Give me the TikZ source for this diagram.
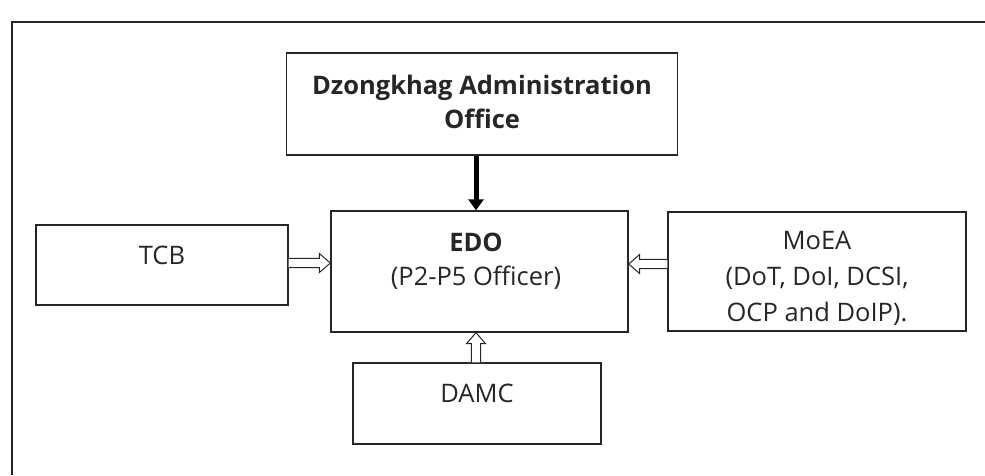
\documentclass[tikz,border=0pt]{standalone}
\usepackage{fontspec}
\setmainfont{Open Sans}
\usetikzlibrary{arrows.meta,calc}
\newcommand\hollowarr[2]{%
  \coordinate (ha) at ($(#2)!11pt!(#1)$);
  \draw[hollow] ($(#1)!4.7pt!90:(#2)$) -- ($(ha)!4.7pt!90:(#2)$) -- ($(ha)!9.5pt!90:(#2)$) -- (#2)
    -- ($(ha)!9.5pt!-90:(#2)$) -- ($(ha)!4.7pt!-90:(#2)$) -- ($(#1)!4.7pt!-90:(#2)$);}
\begin{document}
\begin{tikzpicture}[x=1pt,y=-1pt,
  lbl/.style={font=\fontsize{25.5}{32}\selectfont, text=black!85, align=center, inner sep=0pt},
  box/.style={draw=black!85, line width=1.3pt, inner sep=0pt, align=center, text=black!85},
  hollow/.style={draw=black!85, line width=1pt, fill=white, line join=miter},
  solidarrow/.style={line width=5pt, -{Triangle[width=15pt,length=11pt]}}]
\useasboundingbox (0,0) rectangle (985,475);
\draw[line width=1.6pt, black!85] (985,22) -- (12,22) -- (12,475);
\node[box, minimum width=391pt, minimum height=102pt] (dao) at (482,104) {};
\node[lbl, font=\fontsize{25.5}{34}\selectfont\bfseries] (daot) at (482,102) {Dzongkhag Administration\\Office};
\node[box, minimum width=297pt, minimum height=121pt] (edo) at (479.5,271.5) {};
\node[lbl, font=\fontsize{25.5}{34}\selectfont] (edot) at (476,261) {\textbf{EDO}\\(P2-P5 Officer)};
\node[box, minimum width=252pt, minimum height=80pt] (tcb) at (162,265) {};
\node[lbl] (tcbt) at (162,255) {TCB};
\node[box, minimum width=298pt, minimum height=119pt] (moea) at (817,271.5) {};
\node[lbl, font=\fontsize{25.5}{36}\selectfont] (moeat) at (817,278) {MoEA\\(DoT, DoI, DCSI,\\OCP and DoIP).};
\node[box, minimum width=248pt, minimum height=81pt] (damc) at (477,403.5) {};
\node[lbl] (damct) at (477,393) {DAMC};
\draw[solidarrow] (dao.south -| 476,0) -- (edo.north -| 476,0);
\coordinate (tcbR) at (tcb.east |- 0,263);
\coordinate (edoL) at (edo.west |- 0,263);
\coordinate (moeaL) at (moea.west |- 0,264);
\coordinate (edoR) at (edo.east |- 0,264);
\coordinate (damcT) at (damc.north -| 476,0);
\coordinate (edoB) at (edo.south -| 476,0);
\hollowarr{tcbR}{edoL}
\hollowarr{moeaL}{edoR}
\hollowarr{damcT}{edoB}
\end{tikzpicture}
\end{document}
